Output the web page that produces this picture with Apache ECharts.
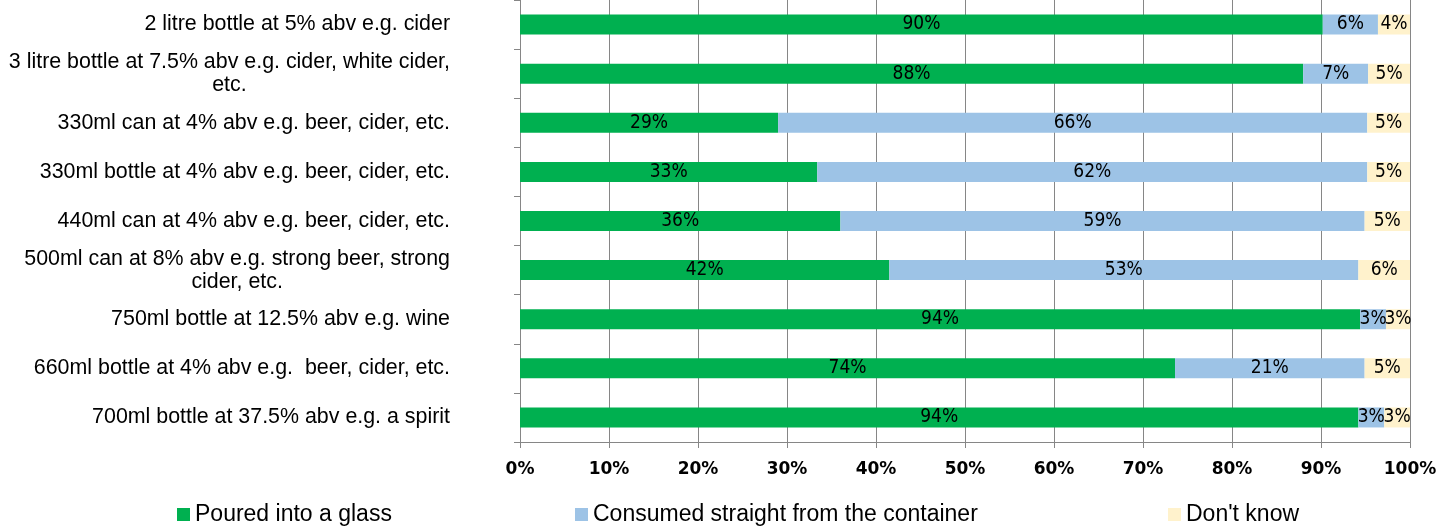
<!DOCTYPE html>
<html>
<head>
<meta charset="utf-8">
<script src="https://cdn.jsdelivr.net/npm/echarts@6/dist/echarts.min.js"></script>
<style>
  html, body { margin: 0; padding: 0; background: #fff; }
  #chart { width: 1456px; height: 527px; }
</style>
</head>
<body>
<div id="chart"></div>
<script>
// categories, top to bottom
var categories = [
  "2 litre bottle at 5% abv e.g. cider",
  "3 litre bottle at 7.5% abv e.g. cider, white cider,\netc.",
  "330ml can at 4% abv e.g. beer, cider, etc.",
  "330ml bottle at 4% abv e.g. beer, cider, etc.",
  "440ml can at 4% abv e.g. beer, cider, etc.",
  "500ml can at 8% abv e.g. strong beer, strong\ncider, etc.",
  "750ml bottle at 12.5% abv e.g. wine",
  "660ml bottle at 4% abv e.g.  beer, cider, etc.",
  "700ml bottle at 37.5% abv e.g. a spirit"
];
var seriesNames = ["Poured into a glass", "Consumed straight from the container", "Don't know"];
var poured   = [90.2, 88.0, 29.0, 33.4, 36.0, 41.5, 94.4, 73.6, 94.2];
var consumed = [6.2, 7.3, 66.2, 61.8, 58.9, 52.7, 2.9, 21.3, 2.9];
var dontKnow = [3.6, 4.7, 4.8, 4.8, 5.1, 5.8, 2.7, 5.1, 2.9];
var colors = ["#00B050", "#9DC3E6", "#FFF2CC"];
var legendLeft = [172, 570, 1163];

var chart = echarts.init(document.getElementById("chart"));

var labelStyle = {
  show: true,
  position: "inside",
  color: "#000",
  fontFamily: "DejaVu Sans Condensed, sans-serif",
  fontSize: 19,
  formatter: function (p) { return Math.round(p.value) + "%"; }
};

function makeSeries(name, data, color) {
  return {
    name: name,
    type: "bar",
    stack: "all",
    barWidth: 20,
    data: data,
    itemStyle: { color: color },
    label: labelStyle,
    emphasis: { disabled: true }
  };
}

// one legend per item so each sits where it does in the original
var legends = seriesNames.map(function (n, i) {
  return {
    top: 498,
    left: legendLeft[i],
    itemWidth: 13,
    itemHeight: 13,
    itemGap: 0,
    icon: "rect",
    selectedMode: false,
    textStyle: { fontSize: 23, color: "#000", fontFamily: "Liberation Sans, Arial, sans-serif" },
    data: [n]
  };
});

chart.setOption({
  animation: false,
  textStyle: { fontFamily: "Liberation Sans, Arial, sans-serif" },
  grid: { left: 520, right: 46, top: -3, bottom: 85 },
  legend: legends,
  xAxis: {
    type: "value",
    min: 0,
    max: 100,
    interval: 10,
    axisLine: { show: true, lineStyle: { color: "#868686" } },
    axisTick: { show: true, length: 6, lineStyle: { color: "#868686" } },
    splitLine: { show: true, lineStyle: { color: "#868686", width: 1 } },
    axisLabel: {
      formatter: "{value}%",
      color: "#000",
      fontWeight: "bold",
      fontSize: 17,
      fontFamily: "DejaVu Sans, sans-serif",
      margin: 19
    }
  },
  yAxis: {
    type: "category",
    inverse: true,
    data: categories,
    axisLine: { show: true, lineStyle: { color: "#868686" } },
    axisTick: { show: true, length: 6, lineStyle: { color: "#868686" } },
    axisLabel: {
      color: "#000",
      fontSize: 21.4,
      margin: 70,
      lineHeight: 23,
      formatter: function (v) {
        return v.split("\n").map(function (s) { return "{c|" + s + "}"; }).join("\n");
      },
      rich: {
        c: { align: "center", fontSize: 21.4, color: "#000", lineHeight: 23 }
      }
    }
  },
  series: [
    makeSeries(seriesNames[0], poured, colors[0]),
    makeSeries(seriesNames[1], consumed, colors[1]),
    makeSeries(seriesNames[2], dontKnow, colors[2])
  ]
});
</script>
</body>
</html>
